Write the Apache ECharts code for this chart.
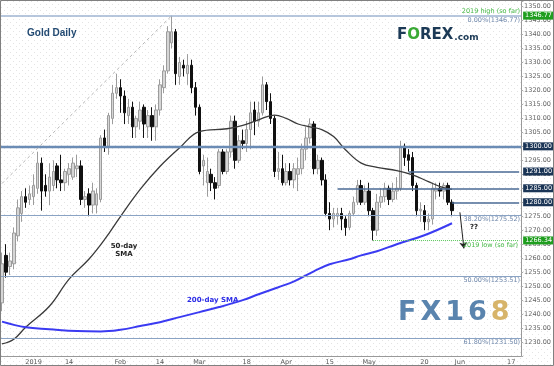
<!DOCTYPE html>
<html>
<head>
<meta charset="utf-8">
<script src="https://cdn.jsdelivr.net/npm/echarts@6.0.0/dist/echarts.min.js"></script>
<style>
  html, body { margin: 0; padding: 0; background: #fff; }
  #chart { width: 554px; height: 366px; }
</style>
</head>
<body>
<div id="chart"></div>
<script>
// trading days from 19 Dec 2018 (25 Dec / 1 Jan skipped), running on into June
function tradingDays(n) {
  var out = [];
  var d = new Date(Date.UTC(2018, 11, 19));
  while (out.length < n) {
    var s = d.toISOString().slice(0, 10);
    var wd = d.getUTCDay();
    if (wd !== 0 && wd !== 6 && s !== '2018-12-25' && s !== '2019-01-01') out.push(s);
    d.setUTCDate(d.getUTCDate() + 1);
  }
  return out;
}
var dates = tradingDays(132);

// x axis labels (category index -> text)
var tickIndex = [8, 17, 30, 40, 50, 62, 72, 83, 93, 107, 116, 129];
var tickText = ['2019', '14', 'Feb', '14', 'Mar', '18', 'Apr', '15', 'May', '20', 'Jun', '17'];

// daily candles
var opens = [1244,1261,1257,1258,1268,1276,1282,1281,1282,1285,1294,1286,1284,1286,1293,1288,1287,1290,1289,1292,
  1293,1281,1283,1279,1279,1281,1303,1300,1310,1319,1321,1318,1311,1314,1307,1309,1314,1307,1311,1307,
  1313,1321,1327,1337,1341,1325,1329,1326,1329,1321,1314,1293,1287,1290,1287,1286,1298,1291,1298,1309,
  1295,1302,1301,1306,1313,1309,1312,1322,1316,1310,1291,1292,1287,1291,1288,1290,1292,1299,1303,1308,
  1292,1295,1288,1276,1274,1275,1276,1274,1271,1276,1280,1286,1280,1284,1277,1270,1280,1282,1285,1281,
  1284,1285,1300,1297,1296,1286,1277,1277,1273,1274,1284,1285,1284,1286,1280];
var highs = [1262,1265,1262,1271,1281,1284,1285,1286,1290,1298,1296,1290,1294,1295,1294,1297,1292,1294,1296,1297,
  1295,1284,1285,1287,1285,1304,1306,1312,1322,1326,1324,1320,1317,1316,1311,1316,1315,1313,1314,1315,
  1324,1329,1343,1346.77,1342,1332,1331,1333,1331,1323,1315,1297,1296,1292,1289,1299,1299,1299,1311,1311,
  1304,1306,1309,1316,1316,1316,1325,1323,1319,1311,1298,1297,1294,1294,1294,1296,1301,1307,1310,1309,
  1297,1296,1290,1280,1278,1278,1278,1275,1277,1282,1288,1288,1286,1287,1278,1283,1285,1287,1286,1287,
  1289,1302,1301,1299,1298,1287,1280,1279,1276,1287,1287,1287,1287,1287,1281];
var lows = [1241,1253,1254,1256,1266,1273,1278,1279,1279,1283,1277,1282,1279,1284,1285,1284,1284,1286,1288,1289,
  1279,1278,1275,1276,1276,1280,1298,1297,1308,1317,1312,1308,1308,1303,1303,1306,1303,1303,1302,1302,
  1311,1319,1326,1335,1322,1322,1325,1322,1319,1311,1290,1286,1282,1284,1281,1285,1290,1290,1296,1292,
  1294,1299,1298,1299,1304,1307,1311,1313,1308,1289,1288,1286,1286,1286,1285,1284,1290,1295,1301,1290,
  1290,1286,1275,1270,1271,1272,1270,1268,1270,1275,1279,1279,1279,1275,1266.34,1268,1278,1280,1279,1280,
  1281,1284,1293,1291,1284,1275,1273,1270,1270,1272,1281,1282,1281,1279,1275];
var closes = [1258,1255,1259,1269,1278,1282,1280,1283,1286,1294,1284,1284,1289,1291,1288,1287,1291,1292,1294,1293,
  1281,1282,1279,1284,1283,1303,1300,1311,1319,1321,1318,1312,1314,1307,1310,1313,1308,1311,1307,1313,
  1322,1327,1341,1341,1326,1330,1328,1329,1321,1314,1291,1295,1291,1287,1285,1298,1291,1298,1309,1295,
  1302,1301,1306,1312,1309,1312,1322,1316,1310,1291,1292,1287,1291,1288,1292,1292,1299,1303,1308,1292,
  1295,1288,1276,1274,1276,1276,1274,1271,1276,1280,1286,1280,1284,1277,1270,1280,1282,1285,1281,1284,
  1285,1300,1296,1295,1286,1277,1277.5,1273,1274,1285,1285,1284,1286,1280,1277];

// moving averages: [day index, value]
var sma50Idx = [0,3,6,12,17,22,26,30,35,40,45,50,57,61,65,69,72,75,78,81,84,87,91,95,100,104,108,111,114];
var sma50Val = [1229.3,1231,1235.3,1242.8,1252.5,1259.6,1266.7,1274.9,1284.6,1292.8,1299.5,1305.3,1306.3,1307.5,
  1309.5,1311.2,1310,1308,1307,1306,1303.5,1298.8,1294,1292.5,1291.3,1289.8,1287.4,1285.6,1284.6];
var sma200Idx = [0,6,12,19,25,30,35,40,45,50,55,61,65,70,74,79,83,88,91,95,100,107,114];
var sma200Val = [1237.3,1235.3,1234.6,1233.9,1233.8,1234.4,1235.7,1237.1,1238.9,1240.7,1242.5,1245,1247.1,1249.6,
  1251.7,1255.3,1257.8,1259.6,1261,1262.5,1265,1268.2,1272.5];

// fibonacci retracement levels
var fibValues = [1346.77, 1275.52, 1253.51, 1231.50];
var fibNames = ['0.00%', '38.20%', '50.00%', '61.80%'];
// horizontal support / resistance levels and the day they start from
var levelValues = [1300, 1291, 1285, 1280];
var levelStart = [0, 103, 85, 114];
var yearHigh = 1346.77;
var yearLow = 1266.34;
var yearLowDay = 94;

var lastCat = dates[dates.length - 1];
var tagFont = { fontSize: 6.5, color: '#fff', padding: [1, 2, 0, 2], fontFamily: 'DejaVu Sans' };

function boxLabel(text, bg, dist) {
  return Object.assign({ show: true, position: 'end', distance: dist, formatter: text, backgroundColor: bg }, tagFont);
}

var lines = [];
fibValues.forEach(function (v, i) {
  lines.push({
    yAxis: v,
    lineStyle: i === 0 ? { color: '#9fb5d2', width: 1.6, type: 'solid' } : { color: '#8aa3c4', width: 1, type: 'solid' },
    label: { show: true, position: 'insideEndBottom', distance: 1, formatter: fibNames[i] + '(' + v.toFixed(2) + ')',
      color: '#7088ab', fontSize: 6.5, fontFamily: 'DejaVu Sans' }
  });
});
lines.push({ yAxis: yearHigh, lineStyle: { color: 'rgba(0,0,0,0)', width: 1 }, label: boxLabel(yearHigh.toFixed(2), '#1f9e1f', 2) });
lines.push({ yAxis: yearHigh, lineStyle: { color: 'rgba(0,0,0,0)', width: 1 },
  label: { show: true, position: 'insideEndTop', distance: 1, formatter: '2019 high (so far)', color: '#45b845', fontSize: 6.5, fontFamily: 'DejaVu Sans' } });

levelValues.forEach(function (v, i) {
  var style = i === 0 ? { color: '#6b8cb5', width: 2.4, type: 'solid' } : { color: '#4a6a94', width: 1.6, type: 'solid' };
  if (levelStart[i] === 0) {
    lines.push({ yAxis: v, lineStyle: style, label: boxLabel(v.toFixed(2), '#1b3556', 2) });
  } else {
    lines.push([
      { coord: [dates[levelStart[i]], v], lineStyle: style, label: boxLabel(v.toFixed(2), '#1b3556', 4) },
      { coord: [lastCat, v] }
    ]);
  }
});

lines.push([
  { coord: [dates[yearLowDay], yearLow], lineStyle: { color: '#5cc85c', width: 1, type: 'dotted' }, label: boxLabel(yearLow.toFixed(2), '#1f9e1f', 4) },
  { coord: [lastCat, yearLow] }
]);
lines.push([
  { coord: [dates[yearLowDay], yearLow], lineStyle: { color: 'rgba(0,0,0,0)', width: 1 },
    label: { show: true, position: 'insideEndBottom', distance: 1, formatter: '2019 low (so far)', color: '#45b845', fontSize: 6.5, fontFamily: 'DejaVu Sans' } },
  { coord: [lastCat, yearLow] }
]);

// dashed trend line up to the February high
lines.push([
  { coord: [dates[0], 1286.7], lineStyle: { color: '#b4b4b4', width: 1, type: [3, 3] }, label: { show: false } },
  { coord: [dates[43], yearHigh] }
]);
// the "??" arrow
lines.push([
  { coord: [dates[116], 1276.4], symbol: 'none', lineStyle: { color: '#222', width: 1, type: 'solid' }, label: { show: false } },
  { coord: [dates[117], 1263.5], symbol: 'arrow', symbolSize: 6 }
]);

// faint dotted paper texture
var tile = document.createElement('canvas');
tile.width = 6; tile.height = 6;
var tc = tile.getContext('2d');
tc.fillStyle = '#e3e3e3';
tc.fillRect(1, 1, 1, 1);
tc.fillRect(4, 4, 1, 1);

var chart = echarts.init(document.getElementById('chart'));

var option = {
  backgroundColor: '#fff',
  animation: false,
  grid: { left: 0, right: 26, top: 1, bottom: 9 },
  xAxis: {
    type: 'category',
    data: dates,
    boundaryGap: true,
    axisLine: { lineStyle: { color: '#999' } },
    axisTick: { show: false },
    axisLabel: {
      interval: function (i) { return tickIndex.indexOf(i) >= 0; },
      formatter: function (v, i) { return tickText[tickIndex.indexOf(i)]; },
      fontSize: 6.5, color: '#555', margin: 3, fontFamily: 'DejaVu Sans'
    },
    splitLine: { show: false }
  },
  yAxis: {
    type: 'value',
    position: 'right',
    min: 1225,
    max: 1352,
    interval: 5,
    axisLine: { show: true, lineStyle: { color: '#999' } },
    axisTick: { show: true, length: 2, lineStyle: { color: '#aaa' } },
    axisLabel: {
      fontSize: 6.5, color: '#666', margin: 3, fontFamily: 'DejaVu Sans',
      formatter: function (v) { return (v % 5 === 0 && v > 1225) ? v.toFixed(2) : ''; }
    },
    splitLine: { show: false }
  },
  graphic: [
    { type: 'rect', z: -10, silent: true, shape: { x: 0, y: 0, width: 554, height: 366 },
      style: { fill: { image: tile, repeat: 'repeat' } } },
    { type: 'rect', z: 100, silent: true, shape: { x: 0.5, y: 0.5, width: 553, height: 365 },
      style: { fill: 'none', stroke: '#808080', lineWidth: 1 } },
    { type: 'text', x: 27, y: 28, silent: true,
      style: { text: 'Gold Daily', fontSize: 10, fontWeight: 'bold', fontFamily: 'Liberation Sans', fill: '#234a72' } },
    { type: 'text', x: 397, y: 28, silent: true,
      style: {
        text: '{a|F}{b|O}{a|REX}{c|.com}',
        rich: {
          a: { fontSize: 15, fontWeight: 'bold', fontFamily: 'DejaVu Sans', fill: '#1c3a56' },
          b: { fontSize: 15, fontWeight: 'bold', fontFamily: 'DejaVu Sans', fill: '#3aa935' },
          c: { fontSize: 9, fontWeight: 'bold', fontFamily: 'DejaVu Sans', fill: '#1c3a56', padding: [4, 0, 0, 1] }
        }
      } },
    { type: 'text', x: 396, y: 299, silent: true,
      style: {
        text: '{a|F}{a|X}{a|1}{a|6}{b|8}',
        rich: {
          a: { fontSize: 27, fontWeight: 'bold', fontFamily: 'DejaVu Sans', fill: '#5a84ae', padding: [0, 2, 0, 2] },
          b: { fontSize: 27, fontWeight: 'bold', fontFamily: 'DejaVu Sans', fill: '#d7b46a', padding: [0, 2, 0, 2] }
        }
      } },
    { type: 'text', x: 124, y: 242, silent: true,
      style: { text: '50-day\nSMA', align: 'center', lineHeight: 8, fontSize: 7, fontWeight: 'bold', fontFamily: 'DejaVu Sans', fill: '#222' } },
    { type: 'text', x: 187, y: 297, silent: true,
      style: { text: '200-day SMA', fontSize: 7, fontWeight: 'bold', fontFamily: 'DejaVu Sans', fill: '#2b2be6' } },
    { type: 'text', x: 470, y: 224, silent: true,
      style: { text: '??', fontSize: 7, fontWeight: 'bold', fontFamily: 'DejaVu Sans', fill: '#222' } }
  ],
  series: [
    {
      type: 'candlestick',
      data: opens.map(function (o, i) { return [o, closes[i], lows[i], highs[i]]; }),
      barWidth: 3,
      itemStyle: { color: '#d6d6d6', color0: '#111', borderColor: '#9c9c9c', borderColor0: '#111', borderWidth: 1 },
      markLine: { silent: true, symbol: 'none', animation: false, precision: 2, data: lines }
    },
    {
      type: 'line',
      data: sma50Idx.map(function (k, i) { return [dates[k], sma50Val[i]]; }),
      smooth: 0.4, showSymbol: false, silent: true,
      lineStyle: { color: '#3a3a3a', width: 1.3 }
    },
    {
      type: 'line',
      data: sma200Idx.map(function (k, i) { return [dates[k], sma200Val[i]]; }),
      smooth: 0.4, showSymbol: false, silent: true,
      lineStyle: { color: '#3b3bf2', width: 2 }
    }
  ]
};

chart.setOption(option);
</script>
</body>
</html>
